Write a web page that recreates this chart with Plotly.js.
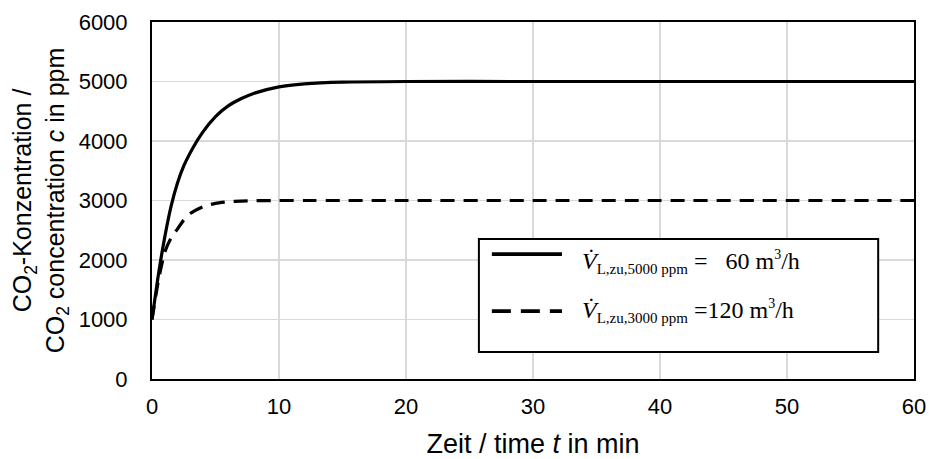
<!DOCTYPE html>
<html>
<head>
<meta charset="utf-8">
<script src="https://cdn.plot.ly/plotly-3.0.1.min.js"></script>
<style>html,body{margin:0;padding:0;background:#fff;}#chart{width:929px;height:459px;}</style>
</head>
<body>
<div id="chart"></div>
<script>
// time in minutes
const timeMin = [0, 0.5, 1, 1.5, 2, 2.5, 3, 4, 5, 6, 7, 8, 10, 12, 15, 20, 30, 40, 50, 60];
// CO2 concentration, supply 60 m3/h at 5000 ppm
const conc5000 = [1000, 1750, 2380, 2900, 3290, 3580, 3800, 4150, 4410, 4590, 4710, 4800, 4910, 4960, 4990, 5000, 5000, 5000, 5000, 5000];
// CO2 concentration, supply 120 m3/h at 3000 ppm
const conc3000 = [1000, 1650, 2130, 2370, 2520, 2670, 2780, 2895, 2952, 2978, 2990, 2997, 3000, 3000, 3000, 3000, 3000, 3000, 3000, 3000];
const seriesNames = ["V̇ L,zu,5000 ppm = 60 m³/h", "V̇ L,zu,3000 ppm = 120 m³/h"];
const legendText = [
  "<i>V̇</i><sub><span style='font-size:15px'>L,zu,5000 ppm</span></sub> =   60 m<sup><span style='font-size:14px'>3</span></sup>/h",
  "<i>V̇</i><sub><span style='font-size:15px'>L,zu,3000 ppm</span></sub> =120 m<sup><span style='font-size:14px'>3</span></sup>/h"
];
const xTicks = [0, 10, 20, 30, 40, 50, 60];
const yTicks = [0, 1000, 2000, 3000, 4000, 5000, 6000];

const traces = [
  {x: timeMin, y: conc5000, name: seriesNames[0], mode: "lines", line: {color: "#000", width: 3.2, shape: "spline", smoothing: 0.6}, showlegend: false},
  {x: timeMin, y: conc3000, name: seriesNames[1], mode: "lines", line: {color: "#000", width: 3.2, dash: "14px,9px", shape: "spline", smoothing: 0.6}, showlegend: false}
];

const sans = "Liberation Sans, Arial, sans-serif";
const serif = "Liberation Serif, Times New Roman, serif";

const layout = {
  width: 929, height: 459,
  margin: {l: 152, r: 15, t: 22, b: 80},
  paper_bgcolor: "#fff", plot_bgcolor: "#fff",
  showlegend: false,
  xaxis: {
    range: [0, 60], tickvals: xTicks, ticktext: xTicks.map(String),
    showgrid: true, gridcolor: "#d9d9d9", gridwidth: 1.3,
    zeroline: false, showline: true, linecolor: "#000", linewidth: 2, mirror: true,
    ticks: "", ticklen: 0, ticklabelstandoff: 7, tickfont: {family: sans, size: 22, color: "#000"},
    title: {text: "Zeit / time <i>t</i> in min", font: {family: sans, size: 27, color: "#000"}, standoff: 16}
  },
  yaxis: {
    range: [0, 6000], tickvals: yTicks, ticktext: yTicks.map(String),
    showgrid: true, gridcolor: "#d9d9d9", gridwidth: 1.3,
    zeroline: false, showline: true, linecolor: "#000", linewidth: 2, mirror: true,
    ticks: "", ticklen: 0, ticklabelstandoff: 18, tickfont: {family: sans, size: 22, color: "#000"},
    title: {text: "CO<sub>2</sub>-Konzentration /<br>CO<sub>2</sub> concentration <i>c</i> in ppm", font: {family: sans, size: 25, color: "#000"}, standoff: 7}
  },
  shapes: [
    {type: "rect", xref: "paper", yref: "paper", x0: 0.429, x1: 0.953, y0: 0.0756, y1: 0.392,
     line: {color: "#000", width: 2}, fillcolor: "#fff", layer: "above"},
    {type: "line", xref: "paper", yref: "paper", x0: 0.446, x1: 0.538, y0: 0.350, y1: 0.350,
     line: {color: "#000", width: 3.8}, layer: "above"},
    {type: "line", xref: "paper", yref: "paper", x0: 0.446, x1: 0.538, y0: 0.190, y1: 0.190,
     line: {color: "#000", width: 3.8, dash: "19px,10px"}, layer: "above"}
  ],
  annotations: [
    {xref: "paper", yref: "paper", x: 0.562, y: 0.328, xanchor: "left", yanchor: "middle", showarrow: false,
     text: legendText[0], font: {family: serif, size: 24, color: "#000"}},
    {xref: "paper", yref: "paper", x: 0.562, y: 0.190, xanchor: "left", yanchor: "middle", showarrow: false,
     text: legendText[1], font: {family: serif, size: 24, color: "#000"}}
  ]
};

Plotly.newPlot("chart", traces, layout, {displayModeBar: false, staticPlot: true});
</script>
</body>
</html>
